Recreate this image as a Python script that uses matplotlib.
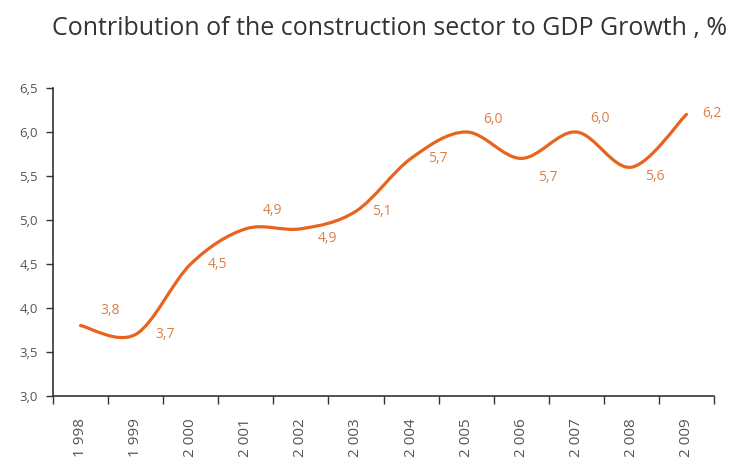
import numpy as np
import matplotlib.pyplot as plt
from matplotlib.path import Path
from matplotlib.patches import PathPatch

years = ['1 998', '1 999', '2 000', '2 001', '2 002', '2 003',
         '2 004', '2 005', '2 006', '2 007', '2 008', '2 009']
values = [3.8, 3.7, 4.5, 4.9, 4.9, 5.1, 5.7, 6.0, 5.7, 6.0, 5.6, 6.2]
# label offsets in points (dx, dy) relative to each point
label_offsets = [(21, 11), (21, 0), (19, 0), (19, 13), (19, -7), (19, 0),
                 (19, 0), (19, 9), (19, -14), (17, 10), (17, -7), (18, 1)]
y_ticks = [3.0, 3.5, 4.0, 4.5, 5.0, 5.5, 6.0, 6.5]

line_color = '#E8641E'
label_color = '#D9804A'
text_gray = '#555555'

plt.rcParams['font.family'] = ['Open Sans', 'DejaVu Sans']

fig = plt.figure(figsize=(7.4, 4.73), dpi=100)
ax = fig.add_axes([53/740, 1 - 396/473, (714 - 53)/740, (396 - 88)/473])

# smoothed line: cubic bezier segments through the points
x = np.arange(len(values), dtype=float)
y = np.array(values, dtype=float)
pts = np.column_stack([x, y])
verts = [pts[0]]
codes = [Path.MOVETO]
for i in range(len(pts) - 1):
    p0 = pts[i - 1] if i > 0 else pts[i]
    p1 = pts[i]
    p2 = pts[i + 1]
    p3 = pts[i + 2] if i + 2 < len(pts) else pts[i + 1]
    c1 = p1 + (p2 - p0) / 6
    c2 = p2 - (p3 - p1) / 6
    verts += [c1, c2, p2]
    codes += [Path.CURVE4] * 3
ax.add_patch(PathPatch(Path(verts, codes), facecolor='none',
                       edgecolor=line_color, lw=2.3, capstyle='round'))

for xi, yi, (dx, dy) in zip(x, y, label_offsets):
    ax.annotate(f'{yi:.1f}'.replace('.', ','), (xi, yi), xytext=(dx, dy),
                textcoords='offset points', ha='center', va='center',
                fontsize=10, color=label_color)

ax.set_xlim(-0.5, len(values) - 0.5)
ax.set_ylim(3.0, 6.5)
ax.set_yticks(y_ticks)
ax.set_yticklabels([f'{v:.1f}'.replace('.', ',') for v in y_ticks])

ax.set_xticks(x)
ax.set_xticklabels(years, rotation=90)
ax.set_xticks(np.arange(len(values) + 1) - 0.5, minor=True)
ax.tick_params(axis='x', which='major', length=0, pad=16,
               labelsize=11, labelcolor=text_gray)
ax.tick_params(axis='x', which='minor', length=6, width=1, color='#333333')
ax.tick_params(axis='y', length=5, width=1, color='#333333', pad=6,
               labelsize=9.5, labelcolor=text_gray)

for side in ['top', 'right']:
    ax.spines[side].set_visible(False)
for side in ['left', 'bottom']:
    ax.spines[side].set_color('#333333')
    ax.spines[side].set_linewidth(1.2)

fig.text(390/740, 1 - 28/473,
         'Contribution of the construction sector to GDP Growth , %',
         ha='center', va='center', fontsize=18, color='#333333')

fig.savefig('out.png', dpi=100)
